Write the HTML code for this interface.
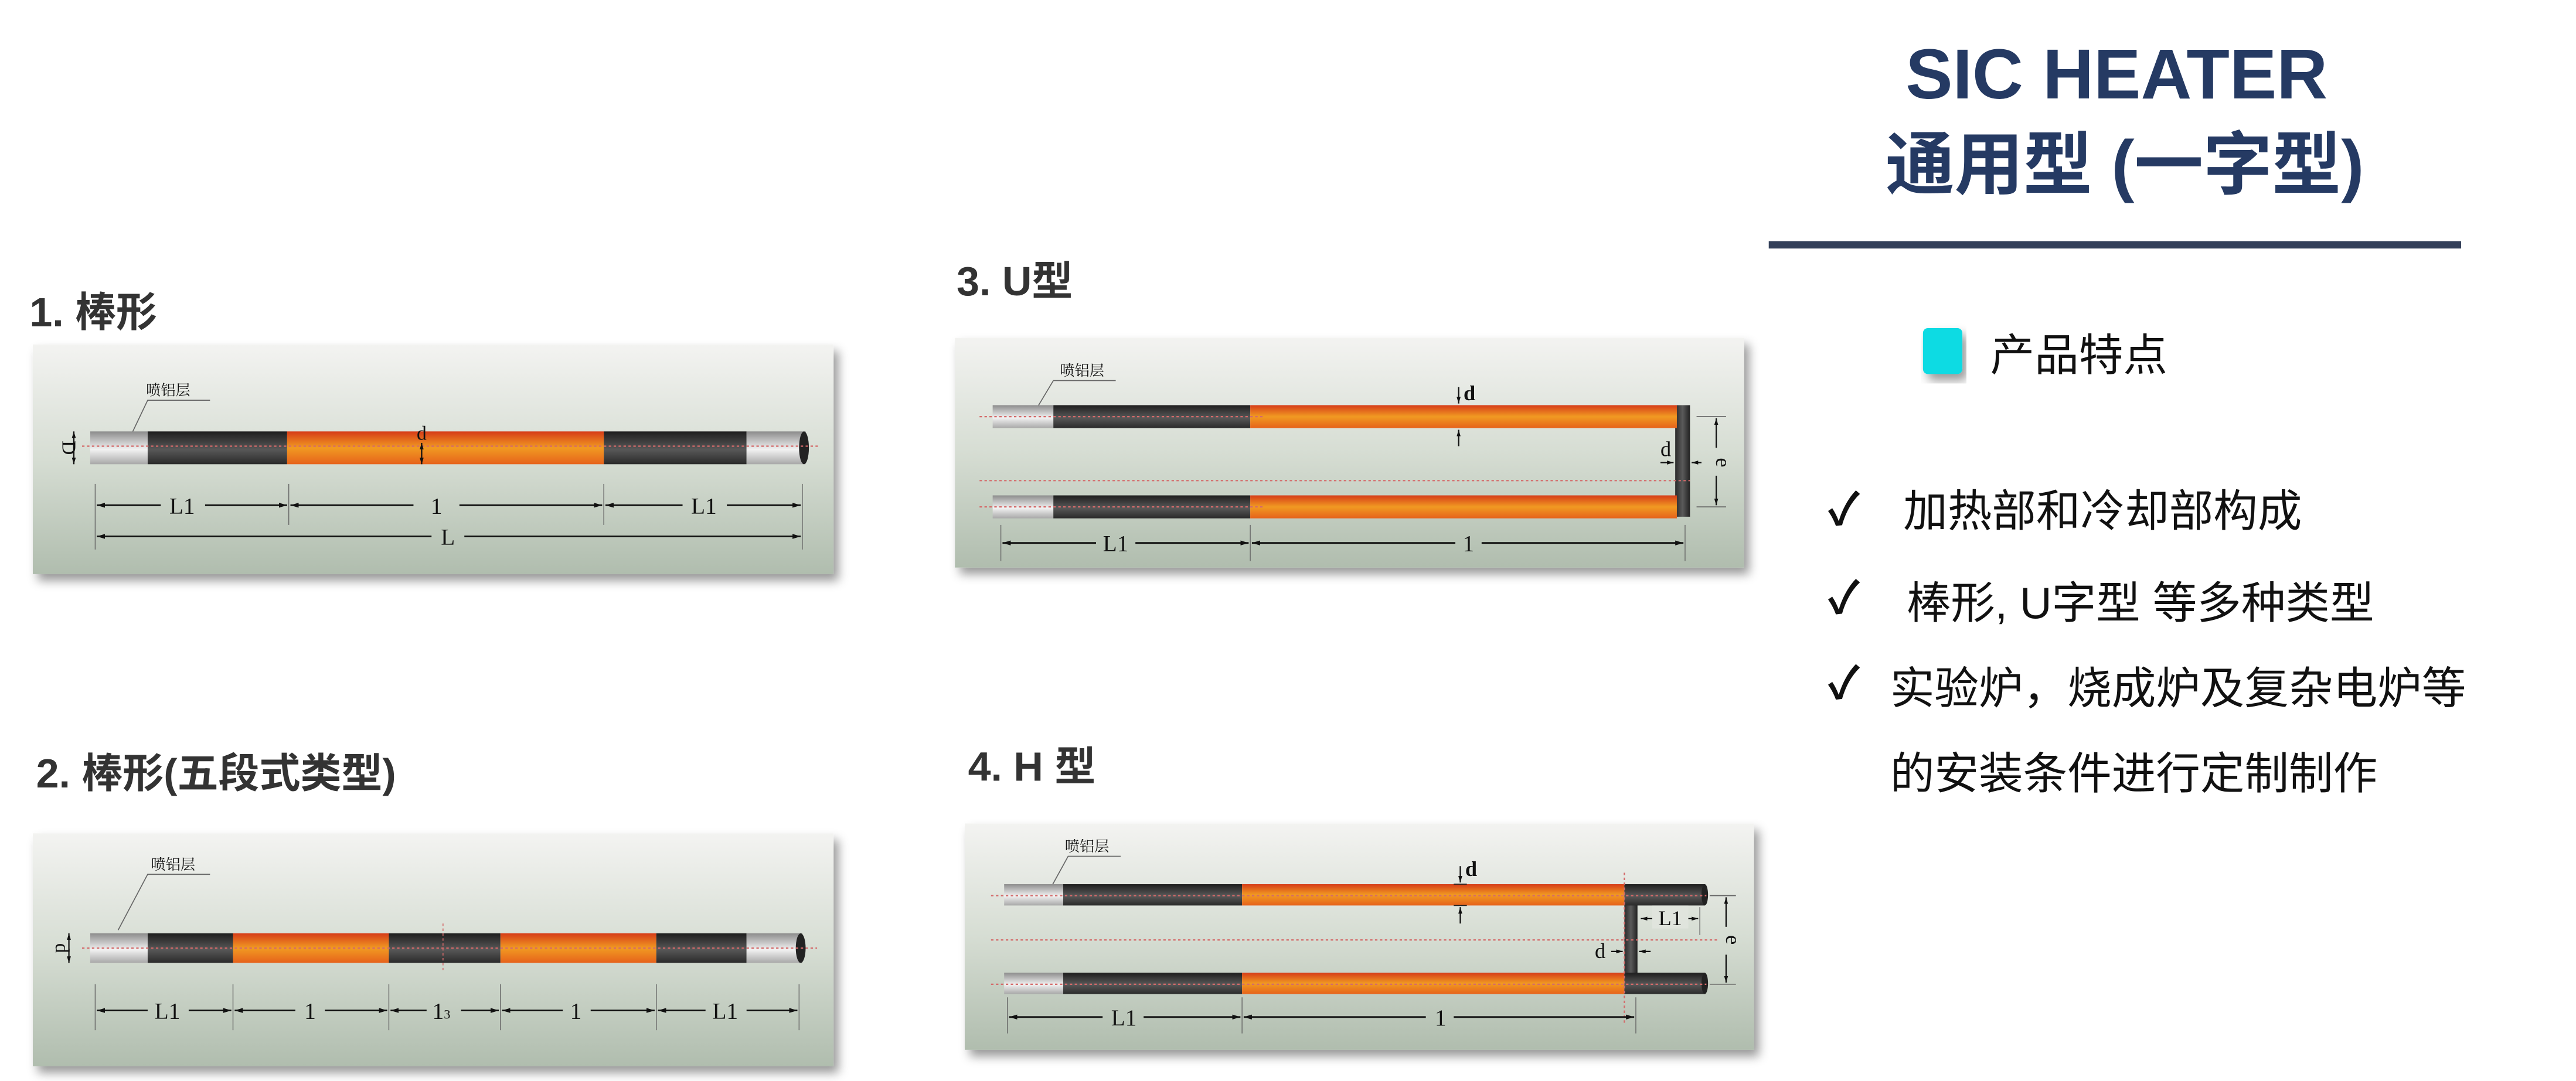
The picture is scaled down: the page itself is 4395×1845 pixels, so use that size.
<!DOCTYPE html>
<html><head><meta charset="utf-8"><style>
html,body{margin:0;padding:0;background:#fff;}
svg{display:block;}
text{font-family:"Liberation Sans","Noto Sans CJK SC",sans-serif;}
.s,.s text{font-family:"Liberation Serif","Noto Serif CJK SC",serif;fill:#111;}
</style></head><body>
<svg width="4395" height="1845" viewBox="0 0 1570 659" preserveAspectRatio="none" xmlns="http://www.w3.org/2000/svg">
<defs>
<linearGradient id="bg" x1="0" y1="0" x2="0" y2="1"><stop offset="0" stop-color="#f3f3f1"/><stop offset="0.5" stop-color="#d6ddd3"/><stop offset="1" stop-color="#b0bdae"/></linearGradient>
<linearGradient id="or" x1="0" y1="0" x2="0" y2="1"><stop offset="0" stop-color="#d63c18"/><stop offset="0.5" stop-color="#f19a22"/><stop offset="1" stop-color="#e6621b"/></linearGradient>
<linearGradient id="dk" x1="0" y1="0" x2="0" y2="1"><stop offset="0" stop-color="#1e1e1e"/><stop offset="0.55" stop-color="#585858"/><stop offset="1" stop-color="#2a2a2a"/></linearGradient>
<linearGradient id="gr" x1="0" y1="0" x2="0" y2="1"><stop offset="0" stop-color="#8c8c8c"/><stop offset="0.55" stop-color="#f2f2f2"/><stop offset="1" stop-color="#a8a8a8"/></linearGradient>
<linearGradient id="vk" x1="0" y1="0" x2="1" y2="0"><stop offset="0" stop-color="#2a2a2a"/><stop offset="0.5" stop-color="#5a5a5a"/><stop offset="1" stop-color="#222"/></linearGradient>
<filter id="sh" x="-5%" y="-10%" width="115%" height="130%"><feDropShadow dx="3" dy="4" stdDeviation="3" flood-color="#000" flood-opacity="0.4"/></filter>
<marker id="a" viewBox="0 0 10 10" refX="10" refY="5" markerWidth="5" markerHeight="5" orient="auto-start-reverse"><path d="M0,2 L10,5 L0,8 z" fill="#111"/></marker>
</defs>

<!-- right text -->
<text x="1290" y="60" text-anchor="middle" font-size="43" font-weight="bold" fill="#253a63">SIC HEATER</text>
<text x="1295" y="115" text-anchor="middle" font-size="42" font-weight="bold" fill="#253a63">通用型 (一字型)</text>
<rect x="1078" y="147" width="422" height="4.5" fill="#34405a"/>
<rect x="1172" y="200" width="24" height="28" rx="3" fill="#0adbe3" filter="url(#sh)"/>
<text x="1213" y="226" font-size="27" fill="#111">产品特点</text>
<g font-size="27" fill="#111">
<text x="1114" y="320" font-weight="bold">✓</text><text x="1160" y="321">加热部和冷却部构成</text>
<text x="1114" y="374" font-weight="bold">✓</text><text x="1162" y="377">棒形, U字型 等多种类型</text>
<text x="1114" y="426" font-weight="bold">✓</text><text x="1152" y="429">实验炉，烧成炉及复杂电炉等</text>
<text x="1152" y="481">的安装条件进行定制制作</text>
</g>

<!-- headings -->
<g font-size="25" font-weight="bold" fill="#333">
<text x="18" y="199">1. 棒形</text>
<text x="583" y="180">3. U型</text>
<text x="22" y="480">2. 棒形(五段式类型)</text>
<text x="590" y="476">4.  H 型</text>
</g>

<!-- Panel 1 -->
<rect x="20" y="210" width="488" height="140" fill="url(#bg)" filter="url(#sh)"/>
<text x="89" y="241" class="s" font-size="9">喷铝层</text>
<path d="M128,244 H90 L80,265" stroke="#666" stroke-width="0.6" fill="none"/>
<rect x="55" y="263" width="35" height="20" fill="url(#gr)"/>
<rect x="90" y="263" width="85" height="20" fill="url(#dk)"/>
<rect x="175" y="263" width="193" height="20" fill="url(#or)"/>
<rect x="368" y="263" width="87" height="20" fill="url(#dk)"/>
<rect x="455" y="263" width="36" height="20" fill="url(#gr)"/>
<ellipse cx="490" cy="273" rx="3" ry="10" fill="#222"/>
<line x1="50" y1="272" x2="500" y2="272" stroke="#d46a6a" stroke-width="0.8" stroke-dasharray="1.5,1.5"/>
<text x="257" y="268" class="s" font-size="12" text-anchor="middle">d</text>
<line x1="257" y1="270" x2="257" y2="283" stroke="#111" stroke-width="0.8" marker-start="url(#a)" marker-end="url(#a)"/>
<text x="38" y="273" class="s" font-size="12" text-anchor="middle" transform="rotate(90 38 273)">D</text>
<line x1="45" y1="263" x2="45" y2="283" stroke="#111" stroke-width="0.8" marker-start="url(#a)" marker-end="url(#a)"/>
<g stroke="#666" stroke-width="0.5"><line x1="58" y1="295" x2="58" y2="335"/><line x1="176" y1="295" x2="176" y2="320"/><line x1="368" y1="295" x2="368" y2="320"/><line x1="489" y1="295" x2="489" y2="335"/></g>
<g stroke="#111" stroke-width="1" fill="none">
<line x1="59" y1="308" x2="98" y2="308" marker-start="url(#a)"/><line x1="125" y1="308" x2="175" y2="308" marker-end="url(#a)"/>
<line x1="177" y1="308" x2="252" y2="308" marker-start="url(#a)"/><line x1="280" y1="308" x2="367" y2="308" marker-end="url(#a)"/>
<line x1="369" y1="308" x2="416" y2="308" marker-start="url(#a)"/><line x1="443" y1="308" x2="488" y2="308" marker-end="url(#a)"/>
<line x1="59" y1="327" x2="263" y2="327" marker-start="url(#a)"/><line x1="283" y1="327" x2="488" y2="327" marker-end="url(#a)"/>
</g>
<g class="s" font-size="14" text-anchor="middle"><text x="111" y="313">L1</text><text x="266" y="313">1</text><text x="429" y="313">L1</text><text x="273" y="332">L</text></g>

<!-- Panel 2 -->
<rect x="20" y="508" width="488" height="142" fill="url(#bg)" filter="url(#sh)"/>
<text x="92" y="530" class="s" font-size="9">喷铝层</text>
<path d="M128,533 H90 L72,567" stroke="#666" stroke-width="0.6" fill="none"/>
<rect x="55" y="569" width="35" height="18" fill="url(#gr)"/>
<rect x="90" y="569" width="52" height="18" fill="url(#dk)"/>
<rect x="142" y="569" width="95" height="18" fill="url(#or)"/>
<rect x="237" y="569" width="68" height="18" fill="url(#dk)"/>
<rect x="305" y="569" width="95" height="18" fill="url(#or)"/>
<rect x="400" y="569" width="55" height="18" fill="url(#dk)"/>
<rect x="455" y="569" width="34" height="18" fill="url(#gr)"/>
<ellipse cx="488" cy="578" rx="3" ry="9" fill="#222"/>
<line x1="50" y1="578" x2="498" y2="578" stroke="#d46a6a" stroke-width="0.8" stroke-dasharray="1.5,1.5"/>
<line x1="270" y1="563" x2="270" y2="593" stroke="#d46a6a" stroke-width="0.6" stroke-dasharray="1.5,1.5"/>
<text x="34" y="578" class="s" font-size="12" text-anchor="middle" transform="rotate(90 34 578)">d</text>
<line x1="42" y1="569" x2="42" y2="587" stroke="#111" stroke-width="0.8" marker-start="url(#a)" marker-end="url(#a)"/>
<g stroke="#666" stroke-width="0.5"><line x1="58" y1="600" x2="58" y2="628"/><line x1="142" y1="600" x2="142" y2="628"/><line x1="237" y1="600" x2="237" y2="628"/><line x1="305" y1="600" x2="305" y2="628"/><line x1="400" y1="600" x2="400" y2="628"/><line x1="487" y1="600" x2="487" y2="628"/></g>
<g stroke="#111" stroke-width="1">
<line x1="59" y1="616" x2="90" y2="616" marker-start="url(#a)"/><line x1="115" y1="616" x2="141" y2="616" marker-end="url(#a)"/>
<line x1="143" y1="616" x2="180" y2="616" marker-start="url(#a)"/><line x1="198" y1="616" x2="236" y2="616" marker-end="url(#a)"/>
<line x1="238" y1="616" x2="260" y2="616" marker-start="url(#a)"/><line x1="281" y1="616" x2="304" y2="616" marker-end="url(#a)"/>
<line x1="306" y1="616" x2="343" y2="616" marker-start="url(#a)"/><line x1="360" y1="616" x2="399" y2="616" marker-end="url(#a)"/>
<line x1="401" y1="616" x2="430" y2="616" marker-start="url(#a)"/><line x1="455" y1="616" x2="486" y2="616" marker-end="url(#a)"/>
</g>
<g class="s" font-size="14" text-anchor="middle"><text x="102" y="621">L1</text><text x="189" y="621">1</text><text x="269" y="621">1<tspan font-size="8">3</tspan></text><text x="351" y="621">1</text><text x="442" y="621">L1</text></g>

<!-- Panel 3 -->
<rect x="582" y="206" width="481" height="140" fill="url(#bg)" filter="url(#sh)"/>
<text x="646" y="229" class="s" font-size="9">喷铝层</text>
<path d="M680,232 H642 L630,252" stroke="#666" stroke-width="0.6" fill="none"/>
<rect x="1021" y="247" width="9" height="68" fill="url(#vk)"/>
<g>
<rect x="605" y="247" width="37" height="14" fill="url(#gr)"/><rect x="642" y="247" width="120" height="14" fill="url(#dk)"/><rect x="762" y="247" width="260" height="14" fill="url(#or)"/>
<rect x="605" y="302" width="37" height="14" fill="url(#gr)"/><rect x="642" y="302" width="120" height="14" fill="url(#dk)"/><rect x="762" y="302" width="260" height="14" fill="url(#or)"/>
</g>
<g stroke="#d46a6a" stroke-width="0.8" stroke-dasharray="1.5,1.5"><line x1="597" y1="254" x2="770" y2="254"/><line x1="597" y1="293" x2="1030" y2="293"/><line x1="597" y1="309" x2="770" y2="309"/></g>
<text x="892" y="244" class="s" font-size="13" font-weight="bold">d</text>
<line x1="889" y1="236" x2="889" y2="246" stroke="#111" stroke-width="0.8" marker-end="url(#a)"/>
<line x1="889" y1="272" x2="889" y2="262" stroke="#111" stroke-width="0.8" marker-end="url(#a)"/>
<text x="1012" y="278" class="s" font-size="13">d</text>
<line x1="1012" y1="282" x2="1020" y2="282" stroke="#111" stroke-width="0.8" marker-end="url(#a)"/>
<line x1="1037" y1="282" x2="1031" y2="282" stroke="#111" stroke-width="0.8" marker-end="url(#a)"/>
<g stroke="#666" stroke-width="0.6"><line x1="1034" y1="254" x2="1052" y2="254"/><line x1="1034" y1="309" x2="1052" y2="309"/></g>
<line x1="1046" y1="255" x2="1046" y2="273" stroke="#111" stroke-width="0.8" marker-start="url(#a)"/><line x1="1046" y1="290" x2="1046" y2="308" stroke="#111" stroke-width="0.8" marker-end="url(#a)"/>
<text x="1046" y="282" class="s" font-size="13" text-anchor="middle" transform="rotate(90 1046 282)">e</text>
<g stroke="#666" stroke-width="0.5"><line x1="610" y1="320" x2="610" y2="342"/><line x1="762" y1="320" x2="762" y2="342"/><line x1="1027" y1="320" x2="1027" y2="342"/></g>
<g stroke="#111" stroke-width="1">
<line x1="611" y1="331" x2="668" y2="331" marker-start="url(#a)"/><line x1="692" y1="331" x2="761" y2="331" marker-end="url(#a)"/>
<line x1="763" y1="331" x2="887" y2="331" marker-start="url(#a)"/><line x1="903" y1="331" x2="1026" y2="331" marker-end="url(#a)"/>
</g>
<g class="s" font-size="14" text-anchor="middle"><text x="680" y="336">L1</text><text x="895" y="336">1</text></g>

<!-- Panel 4 -->
<rect x="588" y="502" width="481" height="138" fill="url(#bg)" filter="url(#sh)"/>
<text x="649" y="519" class="s" font-size="9">喷铝层</text>
<path d="M683,522 H651 L640,542" stroke="#666" stroke-width="0.6" fill="none"/>
<rect x="990" y="549" width="8" height="50" rx="3" fill="url(#vk)"/>
<rect x="612" y="539" width="36" height="13" fill="url(#gr)"/><rect x="648" y="539" width="109" height="13" fill="url(#dk)"/><rect x="757" y="539" width="233" height="13" fill="url(#or)"/><rect x="990" y="539" width="49" height="13" fill="url(#dk)"/>
<ellipse cx="1039" cy="545.5" rx="2" ry="6.5" fill="#222"/>
<rect x="612" y="593" width="36" height="13" fill="url(#gr)"/><rect x="648" y="593" width="109" height="13" fill="url(#dk)"/><rect x="757" y="593" width="233" height="13" fill="url(#or)"/><rect x="990" y="593" width="49" height="13" fill="url(#dk)"/>
<ellipse cx="1039" cy="599.5" rx="2" ry="6.5" fill="#222"/>
<g stroke="#d46a6a" stroke-width="0.8" stroke-dasharray="1.5,1.5"><line x1="604" y1="546" x2="1040" y2="546"/><line x1="604" y1="573" x2="1048" y2="573"/><line x1="604" y1="600" x2="1040" y2="600"/><line x1="990" y1="532" x2="990" y2="625"/></g>
<text x="893" y="534" class="s" font-size="13" font-weight="bold">d</text>
<line x1="890" y1="528" x2="890" y2="538" stroke="#111" stroke-width="0.8" marker-end="url(#a)"/>
<line x1="890" y1="563" x2="890" y2="553" stroke="#111" stroke-width="0.8" marker-end="url(#a)"/>
<line x1="886" y1="539" x2="894" y2="539" stroke="#222" stroke-width="0.6"/><line x1="886" y1="552" x2="894" y2="552" stroke="#222" stroke-width="0.6"/>
<text x="972" y="584" class="s" font-size="13">d</text>
<line x1="982" y1="580" x2="989" y2="580" stroke="#111" stroke-width="0.8" marker-end="url(#a)"/>
<line x1="1006" y1="580" x2="999" y2="580" stroke="#111" stroke-width="0.8" marker-end="url(#a)"/>
<line x1="1000" y1="560" x2="1035" y2="560" stroke="#111" stroke-width="0.8" marker-start="url(#a)" marker-end="url(#a)"/>
<rect x="1007" y="552" width="22" height="14" fill="#e0e4dd"/>
<text x="1018" y="564" class="s" font-size="13" text-anchor="middle">L1</text>
<line x1="1036" y1="553" x2="1036" y2="570" stroke="#666" stroke-width="0.5"/>
<g stroke="#666" stroke-width="0.6"><line x1="1042" y1="546" x2="1058" y2="546"/><line x1="1042" y1="600" x2="1058" y2="600"/></g>
<line x1="1052" y1="547" x2="1052" y2="565" stroke="#111" stroke-width="0.8" marker-start="url(#a)"/><line x1="1052" y1="582" x2="1052" y2="599" stroke="#111" stroke-width="0.8" marker-end="url(#a)"/>
<text x="1052" y="573" class="s" font-size="13" text-anchor="middle" transform="rotate(90 1052 573)">e</text>
<g stroke="#666" stroke-width="0.5"><line x1="614" y1="608" x2="614" y2="630"/><line x1="757" y1="608" x2="757" y2="630"/><line x1="997" y1="608" x2="997" y2="630"/></g>
<g stroke="#111" stroke-width="1">
<line x1="615" y1="620" x2="672" y2="620" marker-start="url(#a)"/><line x1="697" y1="620" x2="756" y2="620" marker-end="url(#a)"/>
<line x1="758" y1="620" x2="869" y2="620" marker-start="url(#a)"/><line x1="886" y1="620" x2="996" y2="620" marker-end="url(#a)"/>
</g>
<g class="s" font-size="14" text-anchor="middle"><text x="685" y="625">L1</text><text x="878" y="625">1</text></g>
</svg>
</body></html>
